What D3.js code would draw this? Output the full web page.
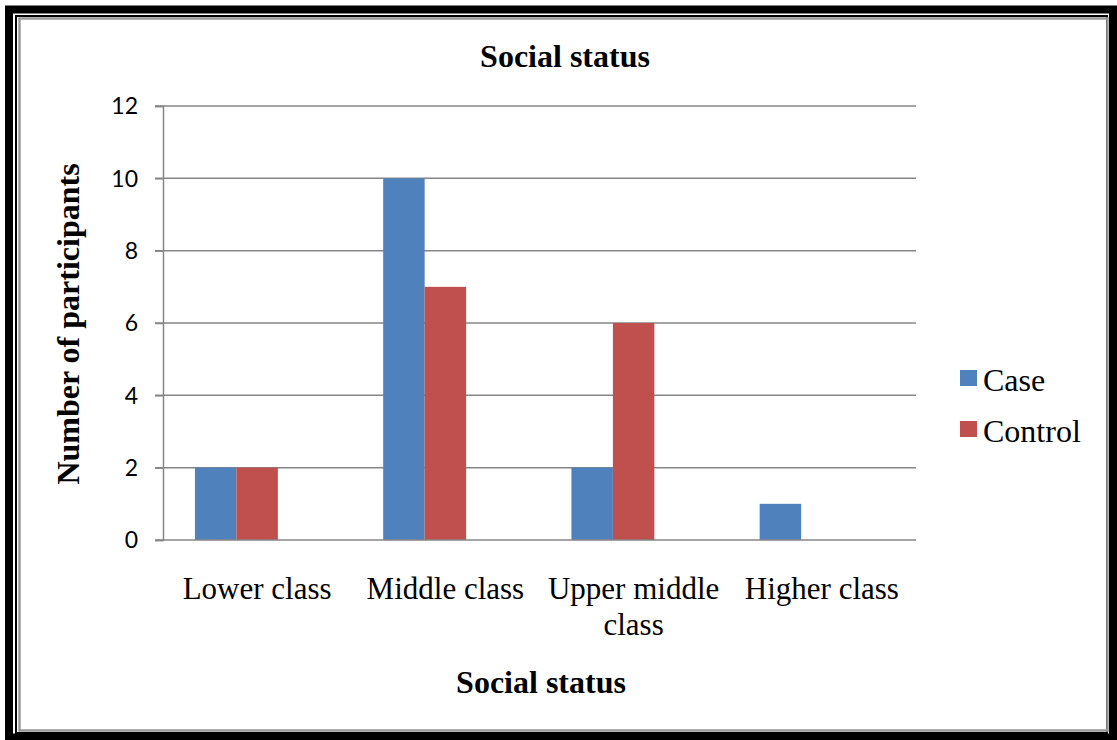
<!DOCTYPE html>
<html>
<head>
<meta charset="utf-8">
<script src="https://cdn.jsdelivr.net/npm/d3@7"></script>
<style>
  body { margin: 0; background: #fff; }
</style>
</head>
<body>
<svg width="1117" height="740"></svg>
<script>
categories = ['Lower class', 'Middle class', 'Upper middle class', 'Higher class']
seriesNames = ['Case', 'Control']
caseValues = [2, 10, 2, 1]
controlValues = [2, 7, 6, 0]
yTicks = [0, 2, 4, 6, 8, 10, 12]
colors = ['#4F81BD', '#C0504D']

X_LEFT = 163
X_RIGHT = 916
Y_TOP = 106
Y_BOTTOM = 540
SERIF = '"Liberation Serif", "Times New Roman", serif'
SANS = 'Lato, "Open Sans", sans-serif'

svg = d3.select('svg')

// double frame around the figure
svg.append('rect').attr('x', 9).attr('y', 9.5).attr('width', 1104).attr('height', 728)
  .attr('fill', 'none').attr('stroke', '#000').attr('stroke-width', 8)
svg.append('rect').attr('x', 16).attr('y', 16).attr('width', 1091).attr('height', 717)
  .attr('fill', 'none').attr('stroke', '#000').attr('stroke-width', 2)
svg.append('rect').attr('x', 19.5).attr('y', 18.5).attr('width', 1088).attr('height', 712)
  .attr('fill', 'none').attr('stroke', '#9a9a9a').attr('stroke-width', 2.5)

y = d3.scaleLinear().domain([0, 12]).range([Y_BOTTOM, Y_TOP])
x0 = d3.scaleBand().domain(categories).range([X_LEFT, X_RIGHT])
// Excel reserves a third (empty) slot in each cluster
x1 = d3.scaleBand().domain(seriesNames.concat([''])).range([0, x0.bandwidth()]).paddingOuter(0.77)

// gridlines
svg.append('g').selectAll('line').data(yTicks.slice(1)).enter().append('line')
  .attr('x1', X_LEFT - 8).attr('x2', X_RIGHT)
  .attr('y1', d => y(d)).attr('y2', d => y(d))
  .attr('stroke', '#868686').attr('stroke-width', 1.5)

// y axis (ticks from d3, labels drawn below with their own font)
yAxis = svg.append('g').attr('transform', 'translate(' + X_LEFT + ',0)')
  .call(d3.axisLeft(y).tickValues(yTicks).tickSize(8).tickFormat(''))
yAxis.select('.domain').attr('stroke', '#868686').attr('stroke-width', 1.5)
yAxis.selectAll('.tick line').attr('stroke', '#868686').attr('stroke-width', 1.5)

svg.append('g').selectAll('text').data(yTicks).enter().append('text')
  .attr('x', X_LEFT - 25)
  .attr('y', d => y(d))
  .attr('dy', '0.36em')
  .attr('text-anchor', 'end')
  .attr('font-family', SANS)
  .attr('font-size', 23)
  .attr('fill', '#000')
  .text(d => d)

// bars
rows = categories.map((c, i) => ({cat: c, vals: [caseValues[i], controlValues[i]]}))
g = svg.append('g').selectAll('g').data(rows).enter().append('g')
  .attr('transform', d => 'translate(' + x0(d.cat) + ',0)')
g.selectAll('rect').data(d => d.vals.map((v, k) => ({k: k, v: v}))).enter().append('rect')
  .attr('x', d => x1(seriesNames[d.k]))
  .attr('width', x1.bandwidth())
  .attr('y', d => y(d.v))
  .attr('height', d => y(0) - y(d.v))
  .attr('fill', d => colors[d.k])

// x axis line
svg.append('line').attr('x1', X_LEFT - 8).attr('x2', X_RIGHT)
  .attr('y1', Y_BOTTOM).attr('y2', Y_BOTTOM)
  .attr('stroke', '#868686').attr('stroke-width', 1.5)

// category labels (wrapped like the original)
labelLines = {'Upper middle class': ['Upper middle', 'class']}
categories.forEach(c => {
  lines = labelLines[c] || [c]
  t = svg.append('text').attr('text-anchor', 'middle')
    .attr('font-family', SERIF).attr('font-size', 31).attr('fill', '#000')
  lines.forEach((ln, i) => {
    t.append('tspan').attr('x', x0(c) + x0.bandwidth() / 2).attr('y', 599 + i * 36).text(ln)
  })
})

// titles
svg.append('text').attr('x', 565).attr('y', 67).attr('text-anchor', 'middle')
  .attr('font-family', SERIF).attr('font-weight', 'bold').attr('font-size', 32).text('Social status')
svg.append('text').attr('x', 541).attr('y', 693).attr('text-anchor', 'middle')
  .attr('font-family', SERIF).attr('font-weight', 'bold').attr('font-size', 32).text('Social status')
svg.append('text').attr('transform', 'translate(79,324) rotate(-90)').attr('text-anchor', 'middle')
  .attr('font-family', SERIF).attr('font-weight', 'bold').attr('font-size', 32).text('Number of participants')

// legend
leg = svg.append('g').selectAll('g').data(seriesNames).enter().append('g')
  .attr('transform', (d, i) => 'translate(960,' + (370 + i * 51) + ')')
leg.append('rect').attr('width', 17).attr('height', 16).attr('fill', (d, i) => colors[i])
leg.append('text').attr('x', 23).attr('y', 21)
  .attr('font-family', SERIF).attr('font-size', 32).text(d => d)
</script>
</body>
</html>
